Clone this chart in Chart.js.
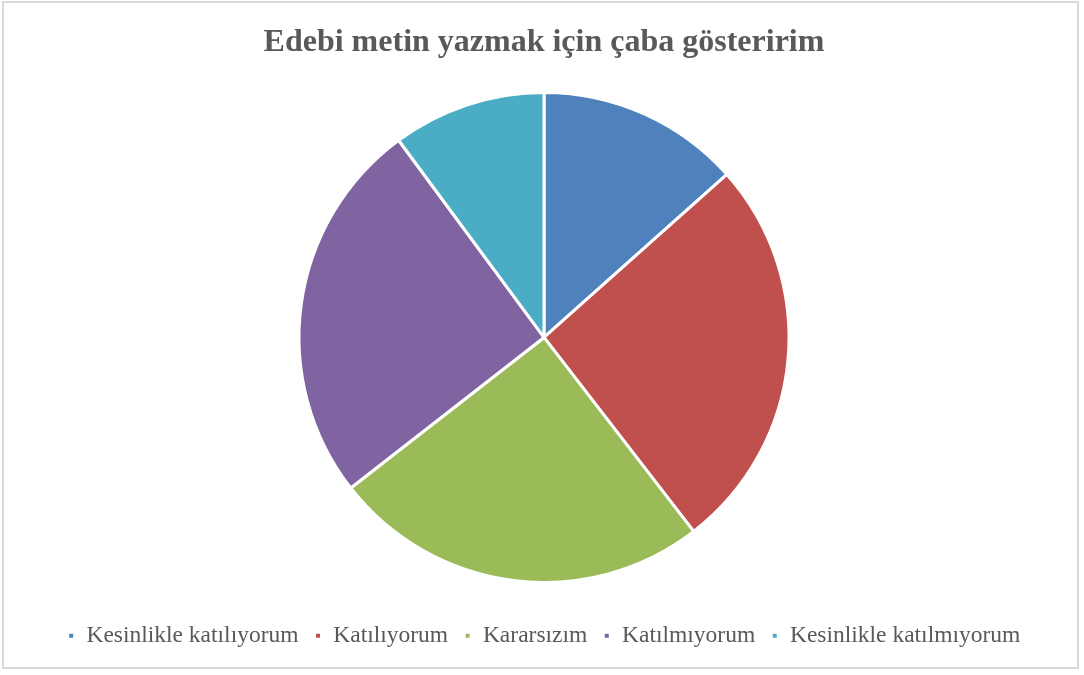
<!DOCTYPE html>
<html>
<head>
<meta charset="utf-8">
<script src="https://cdn.jsdelivr.net/npm/chart.js@4.4.0/dist/chart.umd.min.js"></script>
<style>
html,body{margin:0;padding:0;background:#fff;}
#wrap{position:absolute;left:0;top:0;width:1084px;height:675px;}
#frame{position:absolute;left:2px;top:1px;width:1077px;height:668px;border:2px solid #d9d9d9;pointer-events:none;box-sizing:border-box;}
</style>
</head>
<body>
<div id="wrap"><canvas id="c"></canvas></div>
<div id="frame"></div>
<script>
const titleText = "Edebi metin yazmak için çaba gösteririm";
const categories = ["Kesinlikle katılıyorum", "Katılıyorum", "Kararsızım", "Katılmıyorum", "Kesinlikle katılmıyorum"];
const values = [13.4, 26.1, 24.9, 25.4, 10.1];
const colors = ["#4F81BD", "#C0504D", "#9BBB59", "#8064A2", "#4BACC6"];

new Chart(document.getElementById('c'), {
  type: 'pie',
  data: {
    labels: categories,
    datasets: [{
      data: values,
      backgroundColor: colors,
      borderColor: '#ffffff',
      borderWidth: 3
    }]
  },
  options: {
    responsive: true,
    maintainAspectRatio: false,
    animation: false,
    radius: 245,
    layout: { padding: { left: 4, right: 0, top: 0, bottom: 17.5 } },
    plugins: {
      title: {
        display: true,
        text: titleText,
        color: '#595959',
        font: { family: '"Liberation Serif", "Times New Roman", serif', size: 32, weight: 'bold' },
        padding: { top: 24, bottom: 4.5 }
      },
      legend: {
        position: 'bottom',
        labels: {
          color: '#595959',
          font: { family: '"Liberation Serif", "Times New Roman", serif', size: 23.5 },
          boxWidth: 7,
          boxHeight: 7,
          padding: 16
        }
      },
      tooltip: { enabled: false }
    }
  }
});
</script>
</body>
</html>
